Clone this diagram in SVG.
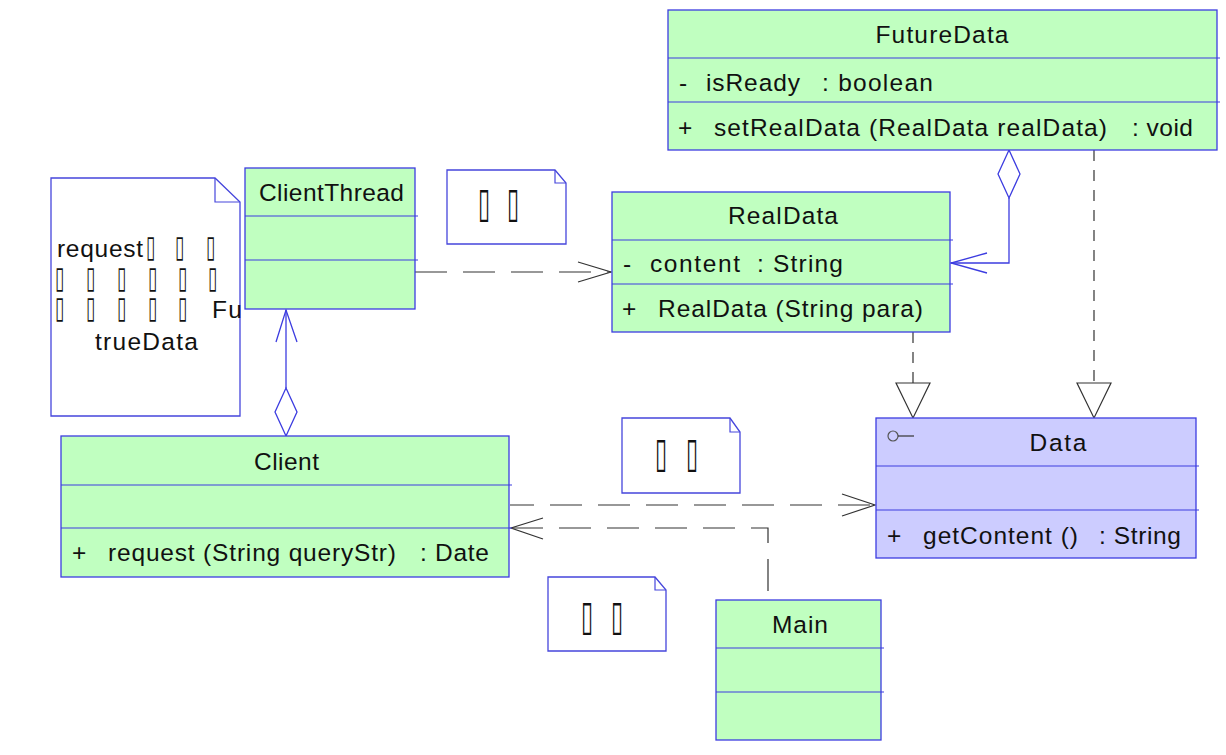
<svg xmlns="http://www.w3.org/2000/svg" width="1226" height="755" viewBox="0 0 1226 755">
<style>
.box{fill:#c0ffc0;stroke:#3c3ce0;stroke-width:1.3}
.iface{fill:#ccccff;stroke:#3c3ce0;stroke-width:1.3}
.div{stroke:#3c3ce0;stroke-width:1.2;fill:none}
.note{fill:#ffffff;stroke:#4646dc;stroke-width:1.3}
.fold{fill:none;stroke:#4646dc;stroke-width:1.2}
.t{font-family:"Liberation Sans",Arial,sans-serif;font-size:24.5px;fill:#111}
.c{text-anchor:middle}
.tofu{font-family:"DejaVu Sans",sans-serif;fill:#111}
.dash{stroke:#333;stroke-width:1.2;fill:none;stroke-dasharray:32 16}
.sdash{stroke:#333;stroke-width:1.2;fill:none;stroke-dasharray:11 9}
.line{stroke:#333;stroke-width:1.2;fill:none}
.bl{stroke:#3c3ce0;stroke-width:1.3;fill:none}
.tri{fill:#ffffff;stroke:#333;stroke-width:1.2}
.dia{fill:#ffffff;stroke:#3c3ce0;stroke-width:1.3}
</style>
<rect width="1226" height="755" fill="#ffffff"/>

<g id="connectors">
  <!-- ClientThread -> RealData -->
  <path class="dash" d="M415,272 H611"/>
  <path class="line" d="M578,262 L611,272 L578,282"/>
  <!-- Client <>-> ClientThread -->
  <path class="bl" d="M286,388 V310"/>
  <path class="bl" d="M276,342 L286,310 L297,342"/>
  <polygon class="dia" points="286,388 297,412 286,436 275,412"/>
  <!-- FutureData <>-> RealData -->
  <polygon class="dia" points="1009,150 1020,174 1009,198 998,174"/>
  <path class="bl" d="M1009,198 V263 H951"/>
  <path class="bl" d="M987,253 L951,263 L987,273"/>
  <!-- RealData -> Data realization -->
  <path class="sdash" d="M913,332 V383"/>
  <polygon class="tri" points="896,383 930,383 913,418"/>
  <!-- FutureData -> Data realization -->
  <path class="sdash" d="M1094,150 V383"/>
  <polygon class="tri" points="1077,383 1111,383 1094,418"/>
  <!-- Client -> Data -->
  <path class="dash" d="M510,505 H875" stroke-dashoffset="8"/>
  <path class="line" d="M842,494 L875,505 L842,516"/>
  <!-- Main -> Client -->
  <path class="dash" d="M511,528 H768 V600"/>
  <path class="line" d="M543,518 L511,528 L543,539"/>
</g>

<g id="note-left">
  <path class="note" d="M51,178 H215 L240,202 V416 H51 Z"/>
  <path class="fold" d="M215,178 V202 H240"/>
  <text class="t" x="57" y="257" textLength="86" lengthAdjust="spacing">request</text>
  <text class="tofu" font-size="17" x="146 175 206" y="257" transform="matrix(1,0,0,1.8,0,-205.6)">▯▯▯</text>
  <text class="tofu" font-size="17" x="55 86 117 148 178 208" y="288" transform="matrix(1,0,0,1.8,0,-230.4)">▯▯▯▯▯▯</text>
  <text class="tofu" font-size="17" x="55 86 117 148 178" y="318" transform="matrix(1,0,0,1.8,0,-254.4)">▯▯▯▯▯</text>
  <text class="t" x="212" y="318" textLength="30" lengthAdjust="spacing">Fu</text>
  <text class="t" x="95" y="350" textLength="103" lengthAdjust="spacing">trueData</text>
</g>

<g id="ClientThread">
  <rect class="box" x="245" y="168" width="170" height="141"/>
  <path class="div" d="M245,216 H418 M245,260 H418"/>
  <text class="t c" x="331.5" y="201" textLength="145" lengthAdjust="spacing">ClientThread</text>
</g>

<g id="note-top">
  <path class="note" d="M447,170 H555 L566,183 V244 H447 Z"/>
  <path class="fold" d="M555,170 V183 H566"/>
  <text class="tofu" font-size="22" x="478 507" y="217" transform="matrix(1,0,0,1.9,0,-195.3)">▯▯</text>
</g>

<g id="RealData">
  <rect class="box" x="612" y="192" width="338" height="140"/>
  <path class="div" d="M612,240 H953 M612,284 H953"/>
  <text class="t c" x="783" y="224" textLength="110" lengthAdjust="spacing">RealData</text>
  <text class="t" x="623" y="272">-</text>
  <text class="t" x="650" y="272" textLength="90" lengthAdjust="spacing">content</text>
  <text class="t" x="757" y="272" textLength="86" lengthAdjust="spacing">: String</text>
  <text class="t" x="622" y="317">+</text>
  <text class="t" x="658" y="317" textLength="265" lengthAdjust="spacing">RealData (String para)</text>
</g>

<g id="FutureData">
  <rect class="box" x="668" y="10" width="549" height="140"/>
  <path class="div" d="M668,58 H1220 M668,102 H1220"/>
  <text class="t c" x="942" y="43" textLength="133" lengthAdjust="spacing">FutureData</text>
  <text class="t" x="679" y="91">-</text>
  <text class="t" x="706" y="91" textLength="94" lengthAdjust="spacing">isReady</text>
  <text class="t" x="822" y="91" textLength="111" lengthAdjust="spacing">: boolean</text>
  <text class="t" x="678" y="136">+</text>
  <text class="t" x="714" y="136" textLength="393" lengthAdjust="spacing">setRealData (RealData realData)</text>
  <text class="t" x="1132" y="136" textLength="61" lengthAdjust="spacing">: void</text>
</g>

<g id="Data">
  <rect class="iface" x="876" y="418" width="320" height="140"/>
  <path class="div" d="M876,466 H1199 M876,510 H1199"/>
  <circle cx="893" cy="436" r="5" fill="none" stroke="#555" stroke-width="1.2"/>
  <path class="line" d="M898,436 H914" stroke="#555"/>
  <text class="t c" x="1058" y="451" textLength="57" lengthAdjust="spacing">Data</text>
  <text class="t" x="887" y="544">+</text>
  <text class="t" x="923" y="544" textLength="155" lengthAdjust="spacing">getContent ()</text>
  <text class="t" x="1099" y="544" textLength="82" lengthAdjust="spacing">: String</text>
</g>

<g id="note-mid">
  <path class="note" d="M622,418 H730 L740,432 V493 H622 Z"/>
  <path class="fold" d="M730,418 V432 H740"/>
  <text class="tofu" font-size="22" x="655 686" y="467" transform="matrix(1,0,0,1.9,0,-420.3)">▯▯</text>
</g>

<g id="Client">
  <rect class="box" x="61" y="436" width="448" height="141"/>
  <path class="div" d="M61,485 H512 M61,528 H512"/>
  <text class="t c" x="286.5" y="470" textLength="65" lengthAdjust="spacing">Client</text>
  <text class="t" x="72" y="561">+</text>
  <text class="t" x="108" y="561" textLength="288" lengthAdjust="spacing">request (String queryStr)</text>
  <text class="t" x="420" y="561" textLength="69" lengthAdjust="spacing">: Date</text>
</g>

<g id="note-bottom">
  <path class="note" d="M548,577 H655 L666,590 V651 H548 Z"/>
  <path class="fold" d="M655,577 V590 H666"/>
  <text class="tofu" font-size="22" x="581 611" y="630" transform="matrix(1,0,0,1.9,0,-567)">▯▯</text>
</g>

<g id="Main">
  <rect class="box" x="716" y="600" width="165" height="140"/>
  <path class="div" d="M716,648 H884 M716,692 H884"/>
  <text class="t c" x="800" y="633" textLength="56" lengthAdjust="spacing">Main</text>
</g>
</svg>
